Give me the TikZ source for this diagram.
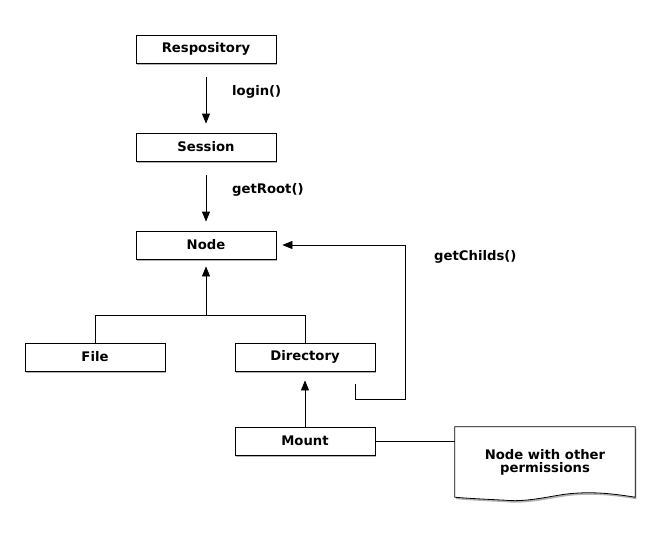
\documentclass[tikz,border=0pt]{standalone}
\usepackage{fontspec}
\setmainfont{DejaVu Sans}
\usetikzlibrary{arrows.meta,shadows,calc}
\begin{document}
\begin{tikzpicture}[x=1pt,y=-1pt,
  txt/.style={font=\bfseries\fontsize{13.2}{15}\selectfont},
  shad/.style={drop shadow={shadow xshift=1.2pt,shadow yshift=-2pt,fill=black,opacity=0.3}},
  box/.style={txt,draw,fill=white,line width=0.8pt,minimum width=140pt,minimum height=28pt,inner sep=0pt,shad},
  lbl/.style={txt,anchor=west,inner sep=0pt},
  arr/.style={-{Triangle[length=10pt,width=8pt]},line width=0.8pt},
  conn/.style={line width=0.8pt}]
\useasboundingbox (0,0) rectangle (660,532);

\node[box] (rep) at (206,49) {Respository};
\node[box] (ses) at (206,147) {Session};
\node[box] (nod) at (206,245) {Node};
\node[box] (fil) at (95,357) {File};
\node[box] (dir) at (305,357) {Directory};
\node[box] (mnt) at (305,441) {Mount};

\node[lbl] (l1) at (232,92) {login()};
\node[lbl] (l2) at (232,190) {getRoot()};
\node[lbl] (l3) at (434,257) {getChilds()};

% note
\node[minimum width=180pt,minimum height=70pt,inner sep=0pt] (note) at (545,462) {};
\path[draw,fill=white,line width=0.8pt,shad]
  (note.north west) -- (note.north east) -- (note.south east)
  .. controls ($(note.south east)+(-25,-4)$) and ($(note.south)+(45,-6)$) .. ($(note.south)+(20,-3)$)
  .. controls ($(note.south)+(0,0)$) and ($(note.south)+(-20,5)$) .. ($(note.south)+(-40,3)$)
  .. controls ($(note.south west)+(30,2)$) and ($(note.south west)+(10,1)$) .. (note.south west) -- cycle;
\node[txt,align=center] (notetext) at (note.center) {Node with other\\[-2pt]permissions};

\draw[arr,shorten <=14pt,shorten >=9pt] (rep.south) -- (ses.north);
\draw[arr,shorten <=14pt,shorten >=9pt] (ses.south) -- (nod.north);

\coordinate (j) at ($(nod.south)+(0,56)$);
\draw[conn] (fil.north) |- (j) -| (dir.north);
\draw[arr,shorten >=7pt] (j) -- (nod.south);

\coordinate (gc) at (355,384);
\coordinate (gr) at (405,399);
\draw[arr,shorten >=6pt] (gc) |- (gr) |- (nod.east);

\draw[arr,shorten >=9pt] (mnt.north) -- (dir.south);
\draw[conn] (mnt.east) -- (mnt.east -| note.west);
\end{tikzpicture}
\end{document}
